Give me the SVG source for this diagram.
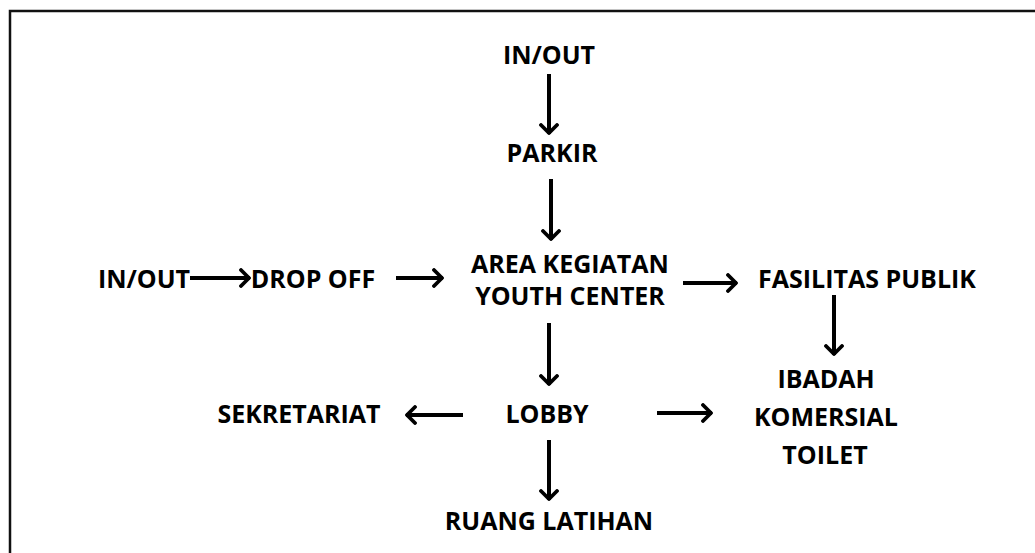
<svg xmlns="http://www.w3.org/2000/svg" width="1035" height="553" viewBox="0 0 1035 553">
  <defs>
    <style>
      .lbl { font-family: "Open Sans", "DejaVu Sans", sans-serif; font-weight: 700; font-size: 25px; fill: #000; text-anchor: middle; }
      .edge { stroke: #000; stroke-width: 4; fill: none; marker-end: url(#head); }
      .frame { stroke: #111; stroke-width: 2.5; fill: none; }
    </style>
    <marker id="head" viewBox="0 0 12 20" refX="11" refY="10" markerWidth="12" markerHeight="20" markerUnits="userSpaceOnUse" orient="auto">
      <path d="M2,2 L10,10 L2,18" stroke="#000" stroke-width="3.8" fill="none" stroke-linecap="round" stroke-linejoin="round"/>
    </marker>
  </defs>
  <rect width="1035" height="553" fill="#fff"/>
  <!-- outer frame: top and left edges only -->
  <path class="frame" d="M10,553 V11 H1035"/>

  <g id="connectors">
    <line class="edge" x1="549" y1="74" x2="549" y2="134"/>
    <line class="edge" x1="551" y1="179" x2="551" y2="240"/>
    <line class="edge" x1="190" y1="278" x2="250" y2="278"/>
    <line class="edge" x1="396" y1="278" x2="443" y2="278"/>
    <line class="edge" x1="683" y1="283" x2="737" y2="283"/>
    <line class="edge" x1="834" y1="295" x2="834" y2="355"/>
    <line class="edge" x1="549" y1="323" x2="549" y2="385"/>
    <line class="edge" x1="463" y1="415" x2="406" y2="415"/>
    <line class="edge" x1="657" y1="413" x2="712" y2="413"/>
    <line class="edge" x1="549" y1="440" x2="549" y2="500"/>
  </g>

  <g id="in-out-top"><text class="lbl" x="549" y="64">IN/OUT</text></g>
  <g id="parkir"><text class="lbl" x="552" y="162">PARKIR</text></g>
  <g id="area-kegiatan">
    <text class="lbl" x="570" y="273">AREA KEGIATAN</text>
    <text class="lbl" x="570" y="305">YOUTH CENTER</text>
  </g>
  <g id="in-out-left"><text class="lbl" x="144" y="288">IN/OUT</text></g>
  <g id="drop-off"><text class="lbl" x="313" y="288">DROP OFF</text></g>
  <g id="fasilitas-publik"><text class="lbl" x="867" y="288">FASILITAS PUBLIK</text></g>
  <g id="fasilitas-list">
    <text class="lbl" x="826" y="388">IBADAH</text>
    <text class="lbl" x="826" y="426">KOMERSIAL</text>
    <text class="lbl" x="825" y="464">TOILET</text>
  </g>
  <g id="sekretariat"><text class="lbl" x="299" y="423">SEKRETARIAT</text></g>
  <g id="lobby"><text class="lbl" x="547" y="423">LOBBY</text></g>
  <g id="ruang-latihan"><text class="lbl" x="549" y="530">RUANG LATIHAN</text></g>
</svg>
